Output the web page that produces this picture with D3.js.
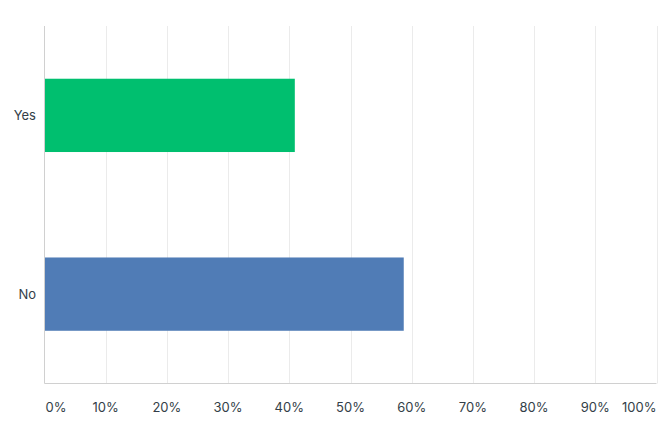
<!DOCTYPE html>
<html><head><meta charset="utf-8">
<script src="https://cdn.jsdelivr.net/npm/d3@7"></script>
<style>
html,body{margin:0;padding:0;background:#fff;}
svg text{font-family:Inter, Roboto, "Open Sans", sans-serif;}
</style></head>
<body>
<svg id="c" width="663" height="424"></svg>
<script>
const categories = ["Yes", "No"];
const values = [40.9, 58.7];
const colors = ["#00bf6f", "#507cb6"];
const tickValues = [0,10,20,30,40,50,60,70,80,90,100];
const tickLabels = ["0%","10%","20%","30%","40%","50%","60%","70%","80%","90%","100%"];

const svg = d3.select("#c");
const m = {left:44.5, right:656.5, top:26, bottom:383.5};
const x = d3.scaleLinear().domain([0,100]).range([m.left, m.right]);
const y = d3.scaleBand().domain(categories).range([m.top, m.bottom]).paddingInner(0.59).paddingOuter(0.295);

// gridlines
svg.append("g").selectAll("line").data(tickValues.slice(1)).join("line")
  .attr("x1", d=>Math.round(x(d))+0.5).attr("x2", d=>Math.round(x(d))+0.5)
  .attr("y1", m.top).attr("y2", m.bottom)
  .attr("stroke", "#ebebeb").attr("stroke-width", 1);

// bars
svg.append("g").selectAll("rect").data(categories).join("rect")
  .attr("x", x(0)).attr("y", d=>y(d))
  .attr("width", (d,i)=>x(values[i])-x(0))
  .attr("height", y.bandwidth())
  .attr("fill", (d,i)=>colors[i]);

// axes lines
svg.append("line").attr("x1", m.left).attr("x2", m.left).attr("y1", m.top).attr("y2", m.bottom)
  .attr("stroke", "#d0d0d0");
svg.append("line").attr("x1", m.left).attr("x2", m.right).attr("y1", m.bottom).attr("y2", m.bottom)
  .attr("stroke", "#d0d0d0");

// category labels
svg.append("g").selectAll("text").data(categories).join("text")
  .attr("x", 36).attr("y", d=>y(d)+y.bandwidth()/2)
  .attr("dy", "0.35em").attr("text-anchor","end")
  .attr("font-size", 13).attr("fill", "#333e48").text(d=>d);

// tick labels
svg.append("g").selectAll("text").data(tickValues).join("text")
  .attr("x", d=> d===0 ? x(d)+1 : d===100 ? x(d) : x(d))
  .attr("y", 412)
  .attr("text-anchor", d=> d===0 ? "start" : d===100 ? "end" : "middle")
  .attr("font-size", 13).attr("fill", "#333e48")
  .text((d,i)=>tickLabels[i]);
</script>
</body></html>
